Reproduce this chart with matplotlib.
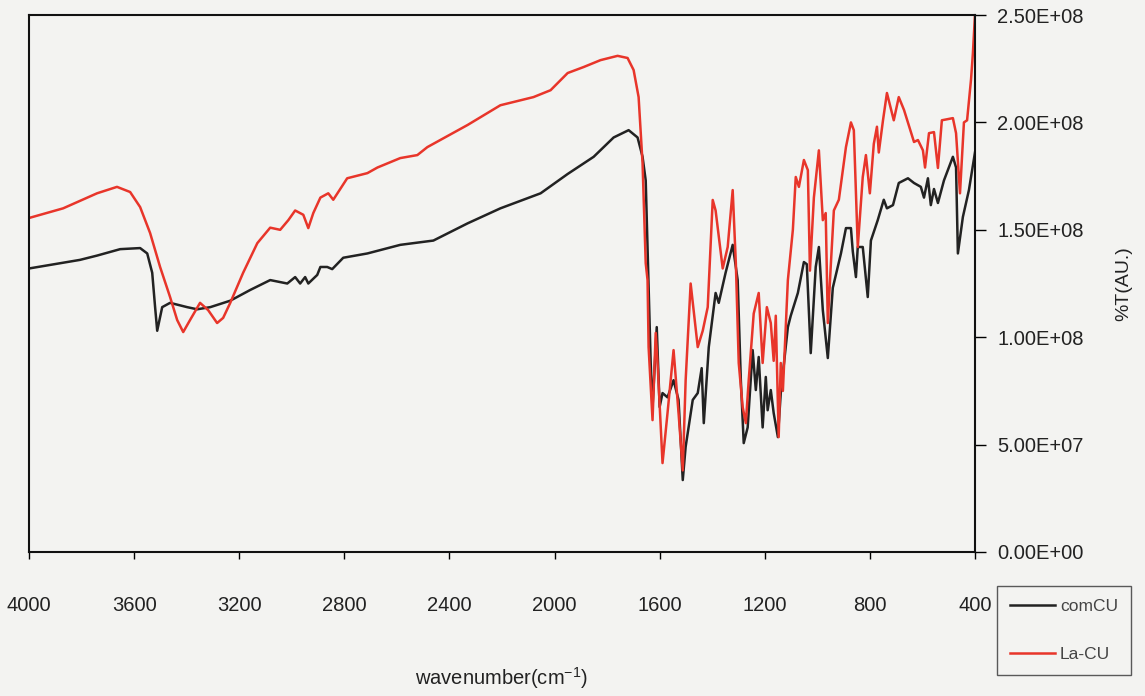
import matplotlib.pyplot as plt
from matplotlib.ticker import FuncFormatter

# FTIR spectra, values (y in units of 1e6)

com_wn = [4000, 3806, 3741, 3653, 3577, 3550, 3531, 3520, 3512, 3493, 3463, 3398, 3360,
          3310, 3234, 3158, 3082, 3017, 2987, 2968, 2949, 2937, 2903, 2891, 2865, 2846,
          2804, 2712, 2587, 2461, 2331, 2206, 2053, 1950, 1851, 1775, 1718, 1684, 1665,
          1653, 1634, 1627, 1611, 1600, 1589, 1570, 1547, 1528, 1512, 1501, 1474, 1455,
          1440, 1432, 1413, 1387, 1375, 1349, 1322, 1303, 1291, 1280, 1265, 1246, 1234,
          1223, 1208, 1196, 1189, 1177, 1166, 1150, 1139, 1112, 1101, 1074, 1051, 1040,
          1025, 1006, 994, 979, 960, 941, 910, 891, 872, 865, 853, 846, 827, 808, 796,
          770, 747, 735, 712, 690, 655, 632, 606, 594, 579, 568, 556, 541, 518, 484,
          472, 465, 446, 423, 400]
com_val = [132, 136, 138, 141, 141.5, 139, 130, 114, 103, 114, 116, 114, 113,
           114, 117, 122, 126.6, 125, 128, 125, 128, 125, 129, 132.7, 132.7, 131.7,
           137, 139, 143, 145, 153, 160, 167, 176, 184, 193, 196.4, 193, 184,
           173, 88, 67.5, 104.7, 67.5, 74, 72, 80, 70.8, 33.5, 49, 70.8, 74,
           85.6, 60, 95.4, 120.6, 116, 130, 143, 126.6, 80, 50.7, 58, 94, 75.4,
           90.8, 58, 81.5, 66, 75.4, 64.7, 53.5, 74, 104.7, 110, 120.6, 135, 134,
           92.6, 132.7, 142, 112.6, 90.3, 123, 139, 150.8, 150.8, 140, 128, 142, 142, 118.7, 145,
           154.5, 164, 160, 161.5, 171.8, 174, 171.8, 170, 165, 174, 161.5, 169, 162.5, 173, 184,
           179, 139, 156, 168.5, 186]

la_wn = [4000, 3870, 3741, 3665, 3615, 3577, 3539, 3501, 3463, 3436, 3413, 3387, 3349,
         3318, 3284, 3261, 3234, 3185, 3131, 3082, 3044, 3013, 2987, 2956, 2937, 2918,
         2891, 2861, 2842, 2789, 2712, 2674, 2587, 2522, 2484, 2331, 2206, 2156, 2080,
         2015, 1950, 1889, 1825, 1760, 1722, 1699, 1680, 1665, 1653, 1646, 1642, 1627,
         1615, 1607, 1589, 1570, 1547, 1528, 1512, 1501, 1482, 1455, 1436, 1417, 1398,
         1387, 1360, 1341, 1322, 1310, 1299, 1284, 1272, 1261, 1242, 1223, 1208, 1192,
         1177, 1166, 1158, 1147, 1139, 1131, 1112, 1093, 1082, 1070, 1051, 1036, 1028,
         1013, 994, 979, 968, 960, 949, 937, 918, 891, 872, 861, 846, 827, 815, 800,
         785, 773, 766, 750, 735, 709, 690, 670, 632, 617, 598, 590, 575, 556, 541,
         526, 484, 472, 457, 442, 430, 415, 408, 400]
la_val = [155.5, 160, 167, 170, 167.6, 160.6, 148.5, 132.7, 118.7, 108, 102.4, 108, 116,
          112.6, 106.6, 109, 116, 130, 143.8, 151, 150, 154.5, 159, 157, 150.8, 157.8,
          165, 167, 164, 174, 176.4, 179, 183.4, 184.8, 188.5, 198.8, 208, 209.5, 211.8,
          215, 223, 225.8, 229, 231, 230, 224.4, 211.8, 181, 134.5, 126.6, 95.4, 61.4,
          102, 86, 41.4, 64.7, 94, 64.7, 38, 80, 125, 95.4, 103, 114, 163.9,
          159, 132, 142, 168.5, 134.5, 88, 67.5, 60, 80, 111, 120.6, 88, 114,
          106.6, 89, 110, 53.5, 88, 75, 126.6, 150, 174.6, 170, 182.5, 177.8, 131,
          165, 187, 154.5, 157.8, 106.6, 132.7, 159, 164, 188.5, 200, 196.4, 142, 174.6, 184.8, 167,
          190, 198, 186, 201, 213.7, 201, 211.8, 205.8, 190.9, 191.8, 187, 179, 195, 195.5, 178.8,
          201, 202, 195, 167, 200, 201, 220, 232, 250]

x_ticks = [4000, 3600, 3200, 2800, 2400, 2000, 1600, 1200, 800, 400]
y_ticks = [0, 50, 100, 150, 200, 250]

bg = "#f3f3f1"
plt.rcParams["font.family"] = ["Liberation Sans", "DejaVu Sans"]

fig = plt.figure(figsize=(11.45, 6.96), dpi=100, facecolor=bg)
ax = fig.add_axes([0.0253, 0.2069, 0.8262, 0.7715], facecolor=bg)

ax.plot(com_wn, [v * 1e6 for v in com_val], color="#222222", linewidth=1.8, label="comCU")
ax.plot(la_wn, [v * 1e6 for v in la_val], color="#e8352a", linewidth=1.8, label="La-CU")

ax.set_xlim(4000, 400)
ax.set_ylim(0, 2.5e8)
ax.set_xticks(x_ticks)
ax.set_yticks([v * 1e6 for v in y_ticks])
ax.yaxis.set_major_formatter(FuncFormatter(lambda v, p: "%.2E" % v))
ax.yaxis.tick_right()
ax.yaxis.set_label_position("right")
ax.tick_params(axis="x", direction="out", length=5, width=1, pad=27, labelsize=14.5,
               labelcolor="#222222")
ax.tick_params(axis="y", direction="out", length=8, width=1, pad=8, labelsize=14.5,
               labelcolor="#222222")
for s in ax.spines.values():
    s.set_linewidth(1.5)
    s.set_color("#111111")

ax.set_xlabel("wavenumber(cm$^{\\mathregular{-1}}$)", fontsize=14.5, labelpad=36, color="#222222")
ax.set_ylabel("%T(AU.)", fontsize=14, labelpad=23, color="#222222")

leg = ax.legend(loc="upper left", bbox_to_anchor=(1.023, -0.063), borderaxespad=0,
                frameon=True, fancybox=False, edgecolor="#333333", facecolor=bg,
                fontsize=12.5, handlelength=2.6, labelspacing=1.9, borderpad=0.75,
                handletextpad=0.3)
leg.get_frame().set_linewidth(1.0)
for t in leg.get_texts():
    t.set_color("#444444")

fig.savefig("out.png", dpi=100, facecolor=bg)
